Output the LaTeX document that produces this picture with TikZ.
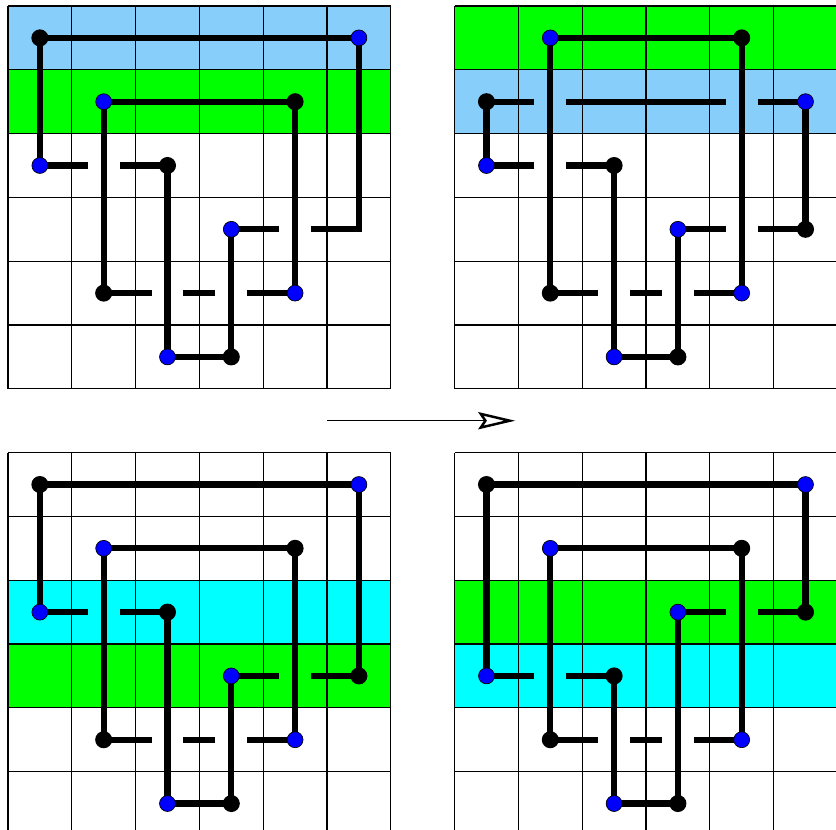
\documentclass[tikz,border=0pt]{standalone}
\usepackage{tikz}
\usetikzlibrary{arrows.meta}
\definecolor{RowSky}{RGB}{135, 206, 250}
\definecolor{RowGreen}{RGB}{0, 255, 0}
\definecolor{RowCyan}{RGB}{0, 255, 255}
\definecolor{DotBlue}{RGB}{0, 0, 255}

\tikzset{
    cellgrid/.style={black, line width=0.55pt},
    strand/.style={black, line width=2.8pt},
    crossone/.style={dash pattern=on 0.75cm off 0.5cm on 0.75cm off 1cm},
    crosstwo/.style={dash pattern=on 0.75cm off 0.5cm on 0.5cm off 0.5cm on 0.75cm off 1cm},
    blackdot/.style={circle, fill=black, inner sep=0pt, minimum size=7.6pt},
    bluedot/.style={circle, fill=DotBlue, draw=black, line width=0.3pt, inner sep=0pt, minimum size=7.1pt}
}

\begin{document}
\begin{tikzpicture}
    \useasboundingbox (-0.125,0.096) rectangle (12.978,13.094);
    \clip (-0.125,0.096) rectangle (12.978,13.094);

    % top left
    \begin{scope}[shift={(0,7)}]
        \fill[RowSky] (0,5) rectangle (6,6);
        \fill[RowGreen] (0,4) rectangle (6,5);
        \draw[cellgrid] (0,0) grid (6,6);
        \foreach \n/\c/\r in {a1/0/2, a2/0/0, a3/5/0, a4/5/3, a5/3/3, a6/3/5, a7/2/5, a8/2/2, b1/1/1, b2/4/1, b3/4/4, b4/1/4}
            \coordinate (tl-\n) at (\c+0.5, 5.5-\r);
        \draw[strand] (tl-a1) -- (tl-a2) -- (tl-a3);
        \draw[strand, dash pattern=on 3.75cm off 0.5cm on 0.75cm off 1cm] (tl-a3) -- (tl-a4) -- (tl-a5);
        \draw[strand] (tl-a5) -- (tl-a6) -- (tl-a7) -- (tl-a8);
        \draw[strand, crossone] (tl-a8) -- (tl-a1);
        \draw[strand] (tl-b4) -- (tl-b1) -- (tl-b2) -- (tl-b3);
        \draw[strand, crosstwo] (tl-b3) -- (tl-b4);
        \foreach \n in {a2, a6, a8, b2, b4}
            \node[blackdot] (tl-\n-dot) at (tl-\n) {};
        \foreach \n in {a1, a3, a5, a7, b1, b3}
            \node[bluedot] (tl-\n-dot) at (tl-\n) {};
    \end{scope}

    % top right
    \begin{scope}[shift={(7,7)}]
        \fill[RowGreen] (0,5) rectangle (6,6);
        \fill[RowSky] (0,4) rectangle (6,5);
        \draw[cellgrid] (0,0) grid (6,6);
        \foreach \n/\c/\r in {a1/0/2, a2/0/1, a3/5/1, a4/5/3, a5/3/3, a6/3/5, a7/2/5, a8/2/2, b1/1/0, b2/4/0, b3/4/4, b4/1/4}
            \coordinate (tr-\n) at (\c+0.5, 5.5-\r);
        \draw[strand] (tr-a1) -- (tr-a2);
        \draw[strand, dash pattern=on 0.75cm off 0.5cm on 2.5cm off 0.5cm on 0.75cm off 1cm] (tr-a2) -- (tr-a3);
        \draw[strand] (tr-a3) -- (tr-a4);
        \draw[strand, crossone] (tr-a4) -- (tr-a5);
        \draw[strand] (tr-a5) -- (tr-a6) -- (tr-a7) -- (tr-a8);
        \draw[strand, crossone] (tr-a8) -- (tr-a1);
        \draw[strand] (tr-b4) -- (tr-b1) -- (tr-b2) -- (tr-b3);
        \draw[strand, crosstwo] (tr-b3) -- (tr-b4);
        \foreach \n in {a2, a4, a6, a8, b2, b4}
            \node[blackdot] (tr-\n-dot) at (tr-\n) {};
        \foreach \n in {a1, a3, a5, a7, b1, b3}
            \node[bluedot] (tr-\n-dot) at (tr-\n) {};
    \end{scope}

    % bottom left
    \begin{scope}
        \fill[RowCyan] (0,3) rectangle (6,4);
        \fill[RowGreen] (0,2) rectangle (6,3);
        \draw[cellgrid] (0,0) grid (6,6);
        \foreach \n/\c/\r in {a1/0/2, a2/0/0, a3/5/0, a4/5/3, a5/3/3, a6/3/5, a7/2/5, a8/2/2, b1/1/1, b2/4/1, b3/4/4, b4/1/4}
            \coordinate (bl-\n) at (\c+0.5, 5.5-\r);
        \draw[strand] (bl-a1) -- (bl-a2) -- (bl-a3) -- (bl-a4);
        \draw[strand, crossone] (bl-a4) -- (bl-a5);
        \draw[strand] (bl-a5) -- (bl-a6) -- (bl-a7) -- (bl-a8);
        \draw[strand, crossone] (bl-a8) -- (bl-a1);
        \draw[strand] (bl-b4) -- (bl-b1) -- (bl-b2) -- (bl-b3);
        \draw[strand, crosstwo] (bl-b3) -- (bl-b4);
        \foreach \n in {a2, a4, a6, a8, b2, b4}
            \node[blackdot] (bl-\n-dot) at (bl-\n) {};
        \foreach \n in {a1, a3, a5, a7, b1, b3}
            \node[bluedot] (bl-\n-dot) at (bl-\n) {};
    \end{scope}

    % bottom right
    \begin{scope}[shift={(7,0)}]
        \fill[RowGreen] (0,3) rectangle (6,4);
        \fill[RowCyan] (0,2) rectangle (6,3);
        \draw[cellgrid] (0,0) grid (6,6);
        \foreach \n/\c/\r in {a1/0/3, a2/0/0, a3/5/0, a4/5/2, a5/3/2, a6/3/5, a7/2/5, a8/2/3, b1/1/1, b2/4/1, b3/4/4, b4/1/4}
            \coordinate (br-\n) at (\c+0.5, 5.5-\r);
        \draw[strand] (br-a1) -- (br-a2) -- (br-a3) -- (br-a4);
        \draw[strand, crossone] (br-a4) -- (br-a5);
        \draw[strand] (br-a5) -- (br-a6) -- (br-a7) -- (br-a8);
        \draw[strand, crossone] (br-a8) -- (br-a1);
        \draw[strand] (br-b4) -- (br-b1) -- (br-b2) -- (br-b3);
        \draw[strand, crosstwo] (br-b3) -- (br-b4);
        \foreach \n in {a2, a4, a6, a8, b2, b4}
            \node[blackdot] (br-\n-dot) at (br-\n) {};
        \foreach \n in {a1, a3, a5, a7, b1, b3}
            \node[bluedot] (br-\n-dot) at (br-\n) {};
    \end{scope}

    \coordinate (movefrom) at (5,6.5);
    \coordinate (moveto) at (7.95,6.5);
    \draw[line width=0.55pt, -{Stealth[open, length=5.8mm, width=2.7mm, inset=0.9mm, line width=1.1pt]}] (movefrom) -- (moveto);
\end{tikzpicture}
\end{document}
